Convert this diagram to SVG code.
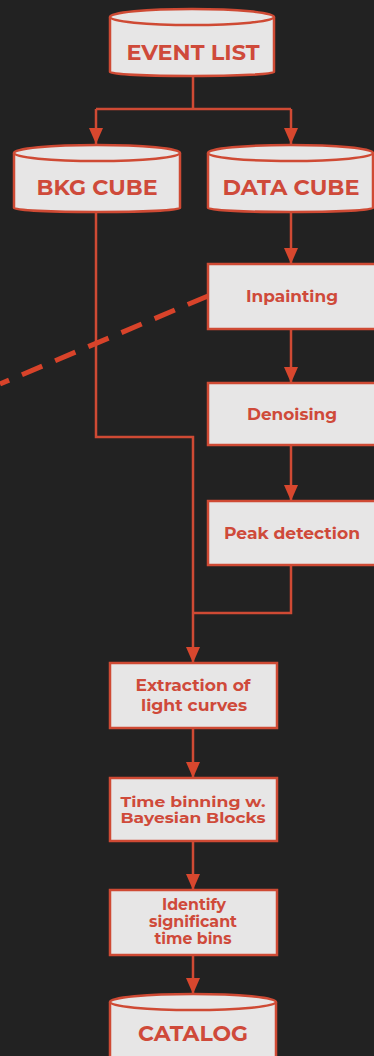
<svg xmlns="http://www.w3.org/2000/svg" width="374" height="1056" viewBox="0 0 374 1056">
<defs>
<style>
.box{fill:#e7e6e6;stroke:#cf4a34;stroke-width:2.5}
.cyl{fill:#e7e6e6;stroke:#cf4a34;stroke-width:2.5}
.lbl{font-family:"Montserrat","Open Sans","Liberation Sans",sans-serif;font-weight:700;fill:#cf4a3a;text-anchor:middle}
.big{font-size:21px}
.sm{font-size:16px}
.xs{font-size:14.5px}
.conn{fill:none;stroke:#cf4a34;stroke-width:2.5}
</style>
<marker id="ah" viewBox="0 0 16 14" refX="16" refY="7" markerWidth="16" markerHeight="14" markerUnits="userSpaceOnUse" orient="auto">
<path d="M0,0 L16,7 L0,14 z" fill="#d8472e"/>
</marker>
</defs>
<rect width="374" height="1056" fill="#222222"/>
<g id="connectors">
<path class="conn" d="M193,76 V109 M96,109 H291"/>
<path class="conn" d="M96,109 V144" marker-end="url(#ah)"/>
<path class="conn" d="M291,109 V144" marker-end="url(#ah)"/>
<path class="conn" d="M291,212 V264" marker-end="url(#ah)"/>
<path class="conn" d="M291,329 V383" marker-end="url(#ah)"/>
<path class="conn" d="M291,445 V501" marker-end="url(#ah)"/>
<path class="conn" d="M96,212 V437 H193 V663" marker-end="url(#ah)"/>
<path class="conn" d="M291,565 V613 H193"/>
<path class="conn" d="M193,728 V778" marker-end="url(#ah)"/>
<path class="conn" d="M193,841 V890" marker-end="url(#ah)"/>
<path class="conn" d="M193,955 V994" marker-end="url(#ah)"/>
<path d="M208,296 L0,384" fill="none" stroke="#d8432a" stroke-width="5" stroke-dasharray="22 14"/>
</g>
<g id="event-list">
<path class="cyl" d="M110,17 A82,8 0 0 1 274,17 V72 A82,4 0 0 1 110,72 Z"/>
<path class="cyl" fill="none" d="M110,17 A82,8 0 0 0 274,17"/>
<text class="lbl big" x="193" y="60" textLength="133" lengthAdjust="spacingAndGlyphs">EVENT LIST</text>
</g>
<g id="bkg-cube">
<path class="cyl" d="M14,153 A83,8 0 0 1 180,153 V208 A83,4 0 0 1 14,208 Z"/>
<path class="cyl" fill="none" d="M14,153 A83,8 0 0 0 180,153"/>
<text class="lbl big" x="97" y="195" textLength="121" lengthAdjust="spacingAndGlyphs">BKG CUBE</text>
</g>
<g id="data-cube">
<path class="cyl" d="M208,153 A82.5,8 0 0 1 373,153 V208 A82.5,4 0 0 1 208,208 Z"/>
<path class="cyl" fill="none" d="M208,153 A82.5,8 0 0 0 373,153"/>
<text class="lbl big" x="291" y="195" textLength="137" lengthAdjust="spacingAndGlyphs">DATA CUBE</text>
</g>
<g id="inpainting">
<rect class="box" x="208" y="264" width="168" height="65"/>
<text class="lbl sm" x="292" y="302" textLength="92" lengthAdjust="spacingAndGlyphs">Inpainting</text>
</g>
<g id="denoising">
<rect class="box" x="208" y="383" width="168" height="62"/>
<text class="lbl sm" x="292" y="420" textLength="90" lengthAdjust="spacingAndGlyphs">Denoising</text>
</g>
<g id="peak-detection">
<rect class="box" x="208" y="501" width="168" height="64"/>
<text class="lbl sm" x="292" y="539" textLength="136" lengthAdjust="spacingAndGlyphs">Peak detection</text>
</g>
<g id="extraction">
<rect class="box" x="110" y="663" width="167" height="65"/>
<text class="lbl sm" x="193" y="691" textLength="115" lengthAdjust="spacingAndGlyphs">Extraction of</text>
<text class="lbl sm" x="194" y="711" textLength="106" lengthAdjust="spacingAndGlyphs">light curves</text>
</g>
<g id="time-binning">
<rect class="box" x="110" y="778" width="167" height="63"/>
<text class="lbl xs" x="193" y="807" textLength="145" lengthAdjust="spacingAndGlyphs">Time binning w.</text>
<text class="lbl xs" x="193" y="823" textLength="145" lengthAdjust="spacingAndGlyphs">Bayesian Blocks</text>
</g>
<g id="identify">
<rect class="box" x="110" y="890" width="167" height="65"/>
<text class="lbl sm" x="194" y="910" textLength="64" lengthAdjust="spacingAndGlyphs">Identify</text>
<text class="lbl sm" x="193" y="927" textLength="88" lengthAdjust="spacingAndGlyphs">significant</text>
<text class="lbl sm" x="193" y="944" textLength="77" lengthAdjust="spacingAndGlyphs">time bins</text>
</g>
<g id="catalog">
<path class="cyl" d="M110,1002 A83,8 0 0 1 276,1002 V1060 H110 Z"/>
<path class="cyl" fill="none" d="M110,1002 A83,8 0 0 0 276,1002"/>
<text class="lbl big" x="193" y="1041" textLength="110" lengthAdjust="spacingAndGlyphs">CATALOG</text>
</g>
</svg>
